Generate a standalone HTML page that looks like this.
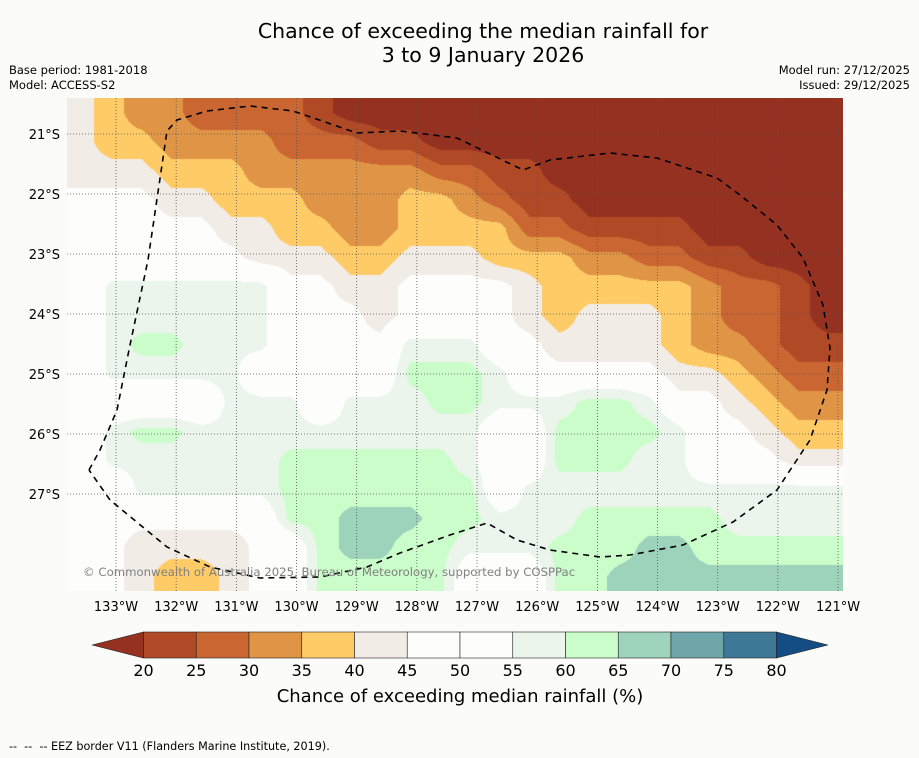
<!DOCTYPE html>
<html><head><meta charset="utf-8"><style>
body{margin:0;background:#fbfcfa;}
#wrap{position:relative;width:919px;height:758px;overflow:hidden;background:#fbfcfa;font-family:"DejaVu Sans","Liberation Sans",sans-serif;color:#000;}
.t{position:absolute;white-space:nowrap;}
</style></head><body>
<div id="wrap">
<div class="t" style="left:0;width:966px;text-align:center;top:19px;font-size:20.5px;line-height:24px;">Chance of exceeding the median rainfall for<br>3 to 9 January 2026</div>
<div class="t" style="left:9px;top:63px;font-size:11.5px;line-height:15px;">Base period: 1981-2018<br>Model: ACCESS-S2</div>
<div class="t" style="right:9px;top:63px;font-size:11.5px;line-height:15px;text-align:right;">Model run: 27/12/2025<br>Issued: 29/12/2025</div>
<canvas id="map" width="776" height="493" style="position:absolute;left:67px;top:98px;"></canvas>
<svg id="ov" width="919" height="758" style="position:absolute;left:0;top:0;"></svg>
<div class="t" style="left:83px;top:565px;font-size:11.7px;color:#808080;">© Commonwealth of Australia 2025, Bureau of Meteorology, supported by COSPPac</div>
<div class="t" style="left:0;width:920px;text-align:center;top:686px;font-size:18px;">Chance of exceeding median rainfall (%)</div>
<div class="t" style="left:9px;top:740px;font-size:11.2px;">--&nbsp; --&nbsp; -- EEZ border V11 (Flanders Marine Institute, 2019).</div>
</div>
<script>
const lonTicks=[133,132,131,130,129,128,127,126,125,124,123,122,121];
const latTicks=[21,22,23,24,25,26,27];
const cbLevels=[20,25,30,35,40,45,50,55,60,65,70,75,80];
const cbColors=["#b04a26","#ca6632","#e09445","#fecb67","#f2ece7","#fdfefc","#fdfefc","#ebf5eb","#cbfdcb","#9dd2bb","#6fa6a9","#3f7896"];
const underColor="#953121", overColor="#134d84";
const grid=[
[42,37,32,32,27,27,27,27,22,17,17,17,17,17,17,17,17,17,17,17,17,17,17,17,17,17],
[42,37,37,32,32,32,32,27,27,27,22,22,17,17,17,17,17,17,17,17,17,17,17,17,17,17],
[42,42,42,37,37,37,32,32,32,32,32,32,27,27,22,22,17,17,17,17,17,17,17,17,17,17],
[47,47,47,42,42,37,37,37,32,32,32,37,37,32,27,22,22,17,17,17,17,17,17,17,17,17],
[47,47,47,47,47,42,42,37,37,32,32,37,37,37,37,27,27,22,22,22,22,17,17,17,17,17],
[47,47,47,47,47,47,42,42,42,37,37,42,42,42,37,37,37,32,32,27,27,22,22,17,17,17],
[47,57,57,57,57,57,57,47,47,42,42,47,47,47,47,42,37,37,37,37,37,32,27,27,22,17],
[47,57,57,57,57,57,57,47,47,47,42,47,47,47,47,42,37,42,42,42,37,32,27,27,22,17],
[47,57,62,62,57,57,57,47,47,47,47,57,57,57,47,47,42,42,42,42,37,32,32,27,22,22],
[47,57,57,57,57,57,47,47,47,47,47,62,62,62,57,47,47,47,47,47,42,42,37,32,27,27],
[47,47,47,47,47,57,57,57,47,57,57,57,62,62,57,57,57,62,62,57,47,47,42,37,32,32],
[47,57,62,62,57,57,57,57,57,57,57,57,57,57,47,47,62,62,62,62,57,47,47,42,37,37],
[47,57,57,57,57,57,57,62,62,62,62,62,62,57,47,47,62,62,62,57,57,47,47,47,42,42],
[47,47,57,57,57,57,57,62,62,62,62,62,62,62,47,57,57,57,57,57,57,57,57,57,57,57],
[47,47,47,47,47,47,47,62,62,67,67,67,62,62,57,57,57,62,62,62,62,62,57,57,57,57],
[47,47,42,42,42,42,47,47,62,67,67,62,62,57,57,57,62,62,62,67,67,62,62,62,62,62],
[47,47,42,37,37,42,47,47,62,62,62,62,62,47,47,47,62,62,67,67,67,67,67,67,67,67]
];
const eezLon=[-133.449,-133.266,-132.983,-132.767,-132.468,-132.152,-131.986,-131.488,-130.773,-130.058,-128.995,-128.280,-127.333,-126.236,-125.787,-124.790,-124.009,-123.012,-122.629,-122.014,-121.582,-121.250,-121.134,-121.183,-121.466,-122.014,-122.746,-123.577,-124.458,-124.956,-125.787,-126.336,-126.834,-127.449,-128.280,-128.829,-129.610,-130.607,-131.438,-132.152,-133.100,-133.449];
const eezLat=[26.6,26.267,25.6,24.517,23.1,20.95,20.767,20.617,20.533,20.617,20.983,20.95,21.067,21.6,21.433,21.317,21.4,21.733,22.017,22.517,23.067,23.85,24.567,25.267,26.1,26.933,27.467,27.85,28.017,28.05,27.933,27.767,27.483,27.683,27.983,28.217,28.383,28.4,28.217,27.883,27.1,26.6];
const x0=116,pxLon=60.17,y0=134,pxLat=60;
function xOf(lon){return x0+(lon+133)*pxLon;}
function yOf(lat){return y0+(lat-21)*pxLat;}
function xOfW(w){return x0+(133-w)*pxLon;}
const cv=document.getElementById('map'),ctx=cv.getContext('2d');
const W=776,H=493,img=ctx.createImageData(W,H);
function hex(c){return [parseInt(c.substr(1,2),16),parseInt(c.substr(3,2),16),parseInt(c.substr(5,2),16)];}
const pal=cbColors.map(hex),pu=hex(underColor),po=hex(overColor);
const nr=grid.length,nc=grid[0].length;
const cw=W/nc,ch=H/nr;
for(let py=0;py<H;py++){let fj=Math.min(nr-1,Math.max(0,(py+0.5-ch/2)/ch));let j0=Math.min(nr-2,Math.floor(fj)),ty=fj-j0;
 for(let px=0;px<W;px++){let fi=Math.min(nc-1,Math.max(0,(px+0.5-cw/2)/cw));let i0=Math.min(nc-2,Math.floor(fi)),tx=fi-i0;
  let v=(grid[j0][i0]*(1-tx)+grid[j0][i0+1]*tx)*(1-ty)+(grid[j0+1][i0]*(1-tx)+grid[j0+1][i0+1]*tx)*ty;
  let c; if(v<cbLevels[0])c=pu; else if(v>=cbLevels[cbLevels.length-1])c=po; else c=pal[Math.floor((v-cbLevels[0])/5)];
  let k=(py*W+px)*4;img.data[k]=c[0];img.data[k+1]=c[1];img.data[k+2]=c[2];img.data[k+3]=255;}}
ctx.putImageData(img,0,0);
const NS="http://www.w3.org/2000/svg",ov=document.getElementById('ov');
function mk(t,a,p){const e=document.createElementNS(NS,t);for(const k in a)e.setAttribute(k,a[k]);(p||ov).appendChild(e);return e;}
const FF='DejaVu Sans, Liberation Sans, sans-serif';
lonTicks.forEach(w=>{const x=xOfW(w);
 const l=mk('line',{x1:x,y1:98,x2:x,y2:591,stroke:'#555','stroke-width':0.8,'stroke-dasharray':'1,2'});
 
 
 const t=mk('text',{x:x,y:611,'font-size':13,'text-anchor':'middle','font-family':FF});t.textContent=w+'°W';
 
 });
latTicks.forEach(s=>{const y=yOf(s);
 const l=mk('line',{x1:67,y1:y,x2:843,y2:y,stroke:'#555','stroke-width':0.8,'stroke-dasharray':'1,2'});
 
 
 const t=mk('text',{x:60,y:y+5,'font-size':13,'text-anchor':'end','font-family':FF});t.textContent=s+'°S';
 
 });
let d=eezLon.map((l,i)=>(i?'L':'M')+xOf(l).toFixed(1)+','+yOf(eezLat[i]).toFixed(1)).join(' ');
const eez=mk('path',{d:d,fill:'none',stroke:'#000','stroke-width':1.6,'stroke-dasharray':'6,5'});


const cbx0=143.5,cbStep=52.75,cby=632,cbh=26;
function cbX(v){return cbx0+(v-cbLevels[0])/5*cbStep;}
const under=mk('polygon',{points:`${cbX(20)},${cby} ${cbX(20)},${cby+cbh} 92,${cby+cbh/2}`,fill:underColor,stroke:'#222','stroke-width':0.6});


cbColors.forEach((c,i)=>{const r=mk('rect',{x:cbX(cbLevels[i]),y:cby,width:cbStep,height:cbh,fill:c,stroke:'#222','stroke-width':0.6});
 
 });
const over=mk('polygon',{points:`${cbX(80)},${cby} ${cbX(80)},${cby+cbh} 828,${cby+cbh/2}`,fill:overColor,stroke:'#222','stroke-width':0.6});


cbLevels.forEach(v=>{const t=mk('text',{x:cbX(v),y:676,'font-size':16,'text-anchor':'middle','font-family':FF});t.textContent=v;
 
 });
</script>
</body></html>
